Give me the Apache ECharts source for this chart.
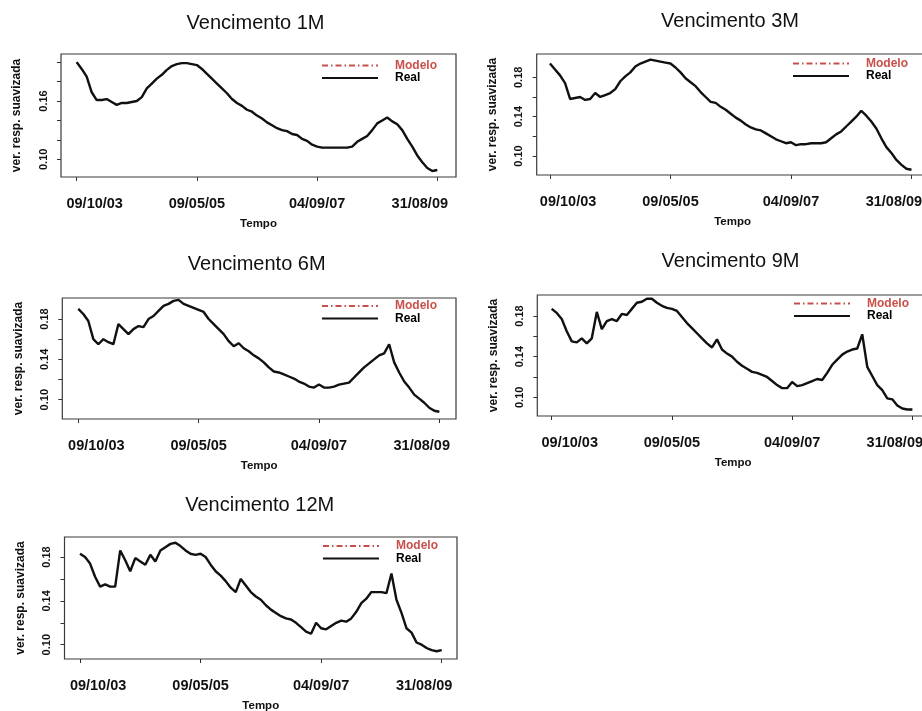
<!DOCTYPE html>
<html>
<head>
<meta charset="utf-8">
<title>Vencimentos - variância suavizada</title>
<script src="https://cdn.jsdelivr.net/npm/echarts@6/dist/echarts.min.js"></script>
<style>
  html, body { margin: 0; padding: 0; background: #ffffff; }
  #chart { width: 922px; height: 711px; }
</style>
</head>
<body>
<div id="chart"></div>
<script>
// Observation index of each dated tick on the time axis, and where its date text sits
const tickIndex = [0, 24, 48, 72];
const labelIndex = [3.6, 24, 48, 68.5];
const tickLabels = ['09/10/03', '09/05/05', '04/09/07', '31/08/09'];

const maturities = ['1M', '3M', '6M', '9M', '12M'];

// Smoothed variance, observed ("Real") series, one value per observation step
const real1M = [
  0.200, 0.193, 0.185, 0.169, 0.161, 0.161, 0.162, 0.159, 0.156, 0.158,
  0.158, 0.159, 0.160, 0.164, 0.173, 0.178, 0.183, 0.187, 0.192, 0.196,
  0.198, 0.199, 0.199, 0.198, 0.197, 0.193, 0.188, 0.183, 0.178, 0.173,
  0.168, 0.162, 0.158, 0.155, 0.151, 0.149, 0.145, 0.142, 0.138, 0.135,
  0.132, 0.130, 0.129, 0.126, 0.125, 0.121, 0.119, 0.115, 0.113, 0.112,
  0.112, 0.112, 0.112, 0.112, 0.112, 0.113, 0.118, 0.121, 0.124, 0.130,
  0.137, 0.140, 0.143, 0.139, 0.136, 0.130, 0.121, 0.113, 0.104, 0.097,
  0.091, 0.088, 0.089
];
const real3M = [
  0.194, 0.188, 0.182, 0.174, 0.158, 0.159, 0.160, 0.157, 0.158, 0.164,
  0.160, 0.162, 0.164, 0.168, 0.176, 0.181, 0.185, 0.191, 0.194, 0.196,
  0.198, 0.197, 0.196, 0.195, 0.194, 0.190, 0.185, 0.179, 0.175, 0.171,
  0.165, 0.160, 0.155, 0.154, 0.150, 0.147, 0.143, 0.139, 0.136, 0.132,
  0.129, 0.127, 0.126, 0.123, 0.120, 0.117, 0.115, 0.113, 0.114, 0.111,
  0.112, 0.112, 0.113, 0.113, 0.113, 0.114, 0.118, 0.122, 0.125, 0.130,
  0.135, 0.140, 0.146, 0.141, 0.135, 0.128, 0.118, 0.109, 0.103, 0.096,
  0.091, 0.087, 0.086
];
const real6M = [
  0.190, 0.185, 0.178, 0.160, 0.155, 0.160, 0.157, 0.155, 0.175, 0.170,
  0.165, 0.170, 0.173, 0.172, 0.180, 0.183, 0.188, 0.193, 0.195, 0.198,
  0.199, 0.195, 0.193, 0.191, 0.189, 0.187, 0.180, 0.175, 0.170, 0.165,
  0.158, 0.153, 0.156, 0.151, 0.148, 0.144, 0.141, 0.137, 0.132, 0.128,
  0.127, 0.125, 0.123, 0.121, 0.118, 0.116, 0.113, 0.112, 0.115, 0.112,
  0.112, 0.113, 0.115, 0.116, 0.117, 0.122, 0.127, 0.132, 0.136, 0.140,
  0.144, 0.146, 0.155, 0.137, 0.127, 0.118, 0.112, 0.105, 0.101, 0.097,
  0.092, 0.089, 0.088
];
const real9M = [
  0.187, 0.183, 0.177, 0.165, 0.155, 0.154, 0.158, 0.153, 0.158, 0.184,
  0.167, 0.175, 0.177, 0.175, 0.182, 0.181, 0.187, 0.193, 0.194, 0.197,
  0.197, 0.193, 0.190, 0.188, 0.187, 0.185, 0.179, 0.173, 0.168, 0.163,
  0.158, 0.153, 0.149, 0.157, 0.147, 0.143, 0.140, 0.135, 0.131, 0.128,
  0.125, 0.124, 0.122, 0.120, 0.116, 0.112, 0.109, 0.109, 0.115, 0.111,
  0.112, 0.114, 0.116, 0.118, 0.117, 0.124, 0.132, 0.137, 0.142, 0.145,
  0.147, 0.148, 0.162, 0.130, 0.121, 0.112, 0.107, 0.099, 0.098, 0.092,
  0.089, 0.088, 0.088
];
const real12M = [
  0.183, 0.180, 0.174, 0.162, 0.153, 0.155, 0.153, 0.153, 0.186, 0.177,
  0.167, 0.179, 0.176, 0.173, 0.182, 0.176, 0.186, 0.189, 0.192, 0.193,
  0.190, 0.186, 0.183, 0.182, 0.183, 0.180, 0.173, 0.167, 0.163, 0.158,
  0.152, 0.148, 0.160, 0.154, 0.148, 0.144, 0.141, 0.136, 0.132, 0.129,
  0.126, 0.124, 0.123, 0.120, 0.116, 0.112, 0.110, 0.120, 0.115, 0.114,
  0.117, 0.120, 0.122, 0.121, 0.124, 0.130, 0.138, 0.142, 0.148, 0.148,
  0.148, 0.147, 0.165, 0.141, 0.129, 0.115, 0.111, 0.102, 0.100, 0.097,
  0.095, 0.094, 0.095
];
const realSeries = [real1M, real3M, real6M, real9M, real12M];

// Tick marks and printed tick labels on the variance axis
const yTicks1M = [0.10, 0.12, 0.14, 0.16, 0.18, 0.20];
const yLabels1M = [0.10, 0.16];
const yTicksStd = [0.10, 0.12, 0.14, 0.16, 0.18];
const yLabelsStd = [0.10, 0.14, 0.18];
const yTicks = [yTicks1M, yTicksStd, yTicksStd, yTicksStd, yTicksStd];
const yLabels = [yLabels1M, yLabelsStd, yLabelsStd, yLabelsStd, yLabelsStd];

// Panel geometry: plot box [left, top, right, bottom], axis extents, title centre, legend anchor
const panels = [
  { box: [61, 54, 456, 177],      x: [-3.13, 75.73], y: [0.08178, 0.20839], title: [255.5, 23.7], legend: [321, 59.5] },
  { box: [536.7, 54, 928.5, 175], x: [-2.65, 75.39], y: [0.08068, 0.20371], title: [730, 21.7],   legend: [792, 57.5] },
  { box: [62.3, 298, 456, 419],   x: [-3.19, 75.33], y: [0.08086, 0.20084], title: [256.7, 264],  legend: [321, 300] },
  { box: [537.3, 295, 929, 416],  x: [-2.88, 75.33], y: [0.0816, 0.20064],  title: [730.5, 261.7], legend: [793, 297.5] },
  { box: [64.5, 537, 457, 659],   x: [-3.09, 75.05], y: [0.08695, 0.19827], title: [259.7, 505],  legend: [322, 540] }
];

const FONT = '"Liberation Sans", Arial, Helvetica, sans-serif';
const INK = '#111111';
const MODEL_RED = '#c8504c';

const chart = echarts.init(document.getElementById('chart'), null, { renderer: 'canvas' });

const titles = [], grids = [], xAxes = [], yAxes = [], legends = [], series = [];

panels.forEach((p, k) => {
  const [L, T, R, B] = p.box;
  titles.push({
    text: 'Vencimento ' + maturities[k],
    left: p.title[0], top: p.title[1],
    textAlign: 'center', textVerticalAlign: 'middle', padding: 0,
    textStyle: { fontFamily: FONT, fontSize: 20, fontWeight: 'normal', color: INK }
  });
  grids.push({
    left: L, top: T, width: R - L, height: B - T,
    outerBoundsMode: 'none', containLabel: false,
    show: true, borderColor: '#3a3a3a', borderWidth: 1.2, backgroundColor: 'transparent'
  });
  xAxes.push({
    type: 'value', gridIndex: k, min: p.x[0], max: p.x[1],
    axisLine: { show: false, onZero: false },
    splitLine: { show: false },
    axisTick: { show: true, customValues: tickIndex, length: 4, lineStyle: { color: '#333', width: 1 } },
    axisLabel: {
      customValues: labelIndex,
      formatter: v => tickLabels[labelIndex.indexOf(v)],
      margin: 19, fontFamily: FONT, fontSize: 14.5, fontWeight: 'bold', color: INK
    },
    name: 'Tempo', nameLocation: 'middle', nameGap: 41,
    nameTextStyle: { fontFamily: FONT, fontSize: 11.5, fontWeight: 'bold', color: INK }
  });
  yAxes.push({
    type: 'value', gridIndex: k, min: p.y[0], max: p.y[1],
    axisLine: { show: false, onZero: false },
    splitLine: { show: false },
    axisTick: { show: true, customValues: yTicks[k], length: 4, lineStyle: { color: '#333', width: 1 } },
    axisLabel: {
      customValues: yLabels[k], rotate: 90,
      formatter: v => v.toFixed(2),
      margin: 12, fontFamily: FONT, fontSize: 11, fontWeight: 'bold', color: INK
    },
    name: 'ver. resp. suavizada', nameLocation: 'middle', nameRotate: 90, nameGap: 38,
    nameTextStyle: { fontFamily: FONT, fontSize: 12, fontWeight: 'bold', color: INK }
  });
  legends.push({
    orient: 'vertical', left: p.legend[0], top: p.legend[1], padding: 0,
    itemWidth: 56, itemHeight: 10, itemGap: 0.5, selectedMode: false,
    itemStyle: { color: 'transparent', borderWidth: 0 },
    data: [
      { name: 'Modelo', textStyle: { color: MODEL_RED } },
      { name: 'Real', textStyle: { color: '#000' } }
    ],
    textStyle: { fontFamily: FONT, fontSize: 12, fontWeight: 'bold', lineHeight: 12, padding: [0, 0, 0, 12] }
  });
  const pts = realSeries[k].map((v, i) => [i, v]);
  // The fitted curve coincides with the observed one at this scale, so it sits underneath
  series.push({
    name: 'Modelo', type: 'line', xAxisIndex: k, yAxisIndex: k, data: pts,
    symbol: 'none', z: 2, silent: true,
    itemStyle: { color: MODEL_RED },
    lineStyle: { color: MODEL_RED, width: 1.3, type: [6, 3, 1.5, 3] }
  });
  series.push({
    name: 'Real', type: 'line', xAxisIndex: k, yAxisIndex: k, data: pts,
    symbol: 'none', z: 3, silent: true,
    itemStyle: { color: INK },
    lineStyle: { color: INK, width: 2.4 }
  });
});

chart.setOption({
  animation: false,
  backgroundColor: '#ffffff',
  title: titles,
  grid: grids,
  xAxis: xAxes,
  yAxis: yAxes,
  legend: legends,
  series: series
});
</script>
</body>
</html>
